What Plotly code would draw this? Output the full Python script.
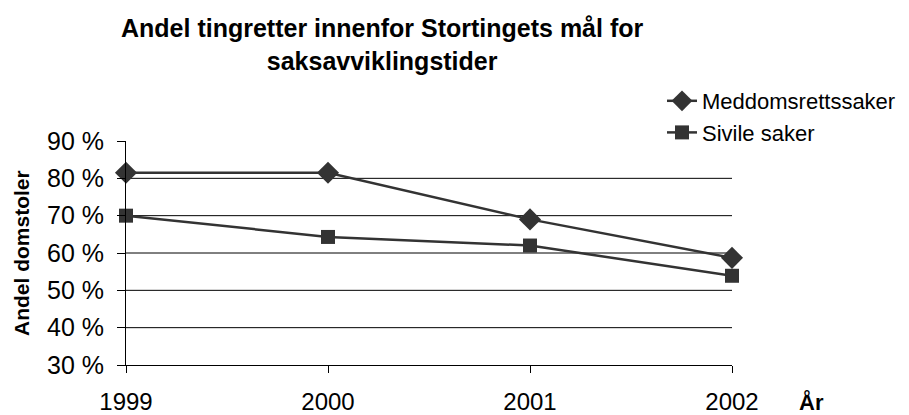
import plotly.graph_objects as go

years = [1999, 2000, 2001, 2002]
meddomsrett = [81.5, 81.5, 69.0, 58.7]
sivile = [70.0, 64.3, 62.0, 53.9]
y_ticks = [30, 40, 50, 60, 70, 80, 90]
grid_vals = [40, 50, 60, 70, 80]

C = "#333333"
fig = go.Figure()
fig.add_trace(go.Scatter(x=years, y=meddomsrett, name="Meddomsrettssaker", mode="lines+markers",
                         line=dict(color=C, width=2.5), marker=dict(symbol="diamond", size=17, color=C),
                         cliponaxis=False))
fig.add_trace(go.Scatter(x=years, y=sivile, name="Sivile saker", mode="lines+markers",
                         line=dict(color=C, width=2.5), marker=dict(symbol="square", size=14, color=C),
                         cliponaxis=False))

for g in grid_vals:
    fig.add_shape(type="line", xref="x", yref="y", x0=years[0], x1=years[-1], y0=g, y1=g,
                  line=dict(color="black", width=1), layer="below")

# page has an 8px body margin, so the figure is 8px smaller and all positions shifted
W, H = 901, 407
L, R, T, B = 118, 177, 133, 50
pw = W - L - R
ph = H - T - B

fig.update_layout(
    width=W, height=H,
    margin=dict(l=L, r=R, t=T, b=B, autoexpand=False),
    paper_bgcolor="white", plot_bgcolor="white",
    font=dict(family="Liberation Sans, Arial, sans-serif", color="black"),
    showlegend=True,
    legend=dict(x=(654 - L) / pw, xanchor="left", y=(H - B - 72) / ph, yanchor="top",
                font=dict(size=22, color="black"), bgcolor="rgba(0,0,0,0)", tracegroupgap=0,
                itemwidth=30),
    xaxis=dict(range=[years[0], years[-1]], tickvals=years, ticktext=[str(y) for y in years],
               showgrid=False, zeroline=False, showline=True, linecolor="black", linewidth=1,
               ticks="outside", ticklen=7, tickcolor="black", tickfont=dict(size=24), ticklabelstandoff=8),
    yaxis=dict(range=[30, 90], tickvals=y_ticks, ticktext=[f"{v} %" for v in y_ticks],
               showgrid=False, zeroline=False, showline=True, linecolor="black", linewidth=1,
               ticks="outside", ticklen=8, tickcolor="black", tickfont=dict(size=25), ticklabelstandoff=8),
    annotations=[
        dict(text="<b>Andel tingretter innenfor Stortingets mål for<br>saksavviklingstider</b>",
             xref="paper", yref="paper", x=(374 - L) / pw, y=(H - B - 4) / ph,
             xanchor="center", yanchor="top", showarrow=False, align="center",
             font=dict(size=25, color="black")),
        dict(text="<b>Andel domstoler</b>", xref="paper", yref="paper", x=(13 - L) / pw, y=(H - B - 245) / ph,
             textangle=-90, showarrow=False, font=dict(size=21, color="black"), xanchor="center", yanchor="middle"),
        dict(text="<b>År</b>", xref="paper", yref="paper", x=(803 - L) / pw, y=-(394 - (H - B)) / ph,
             showarrow=False, font=dict(size=22, color="black"), xanchor="center", yanchor="middle"),
    ],
)

fig.write_html("out.html")
